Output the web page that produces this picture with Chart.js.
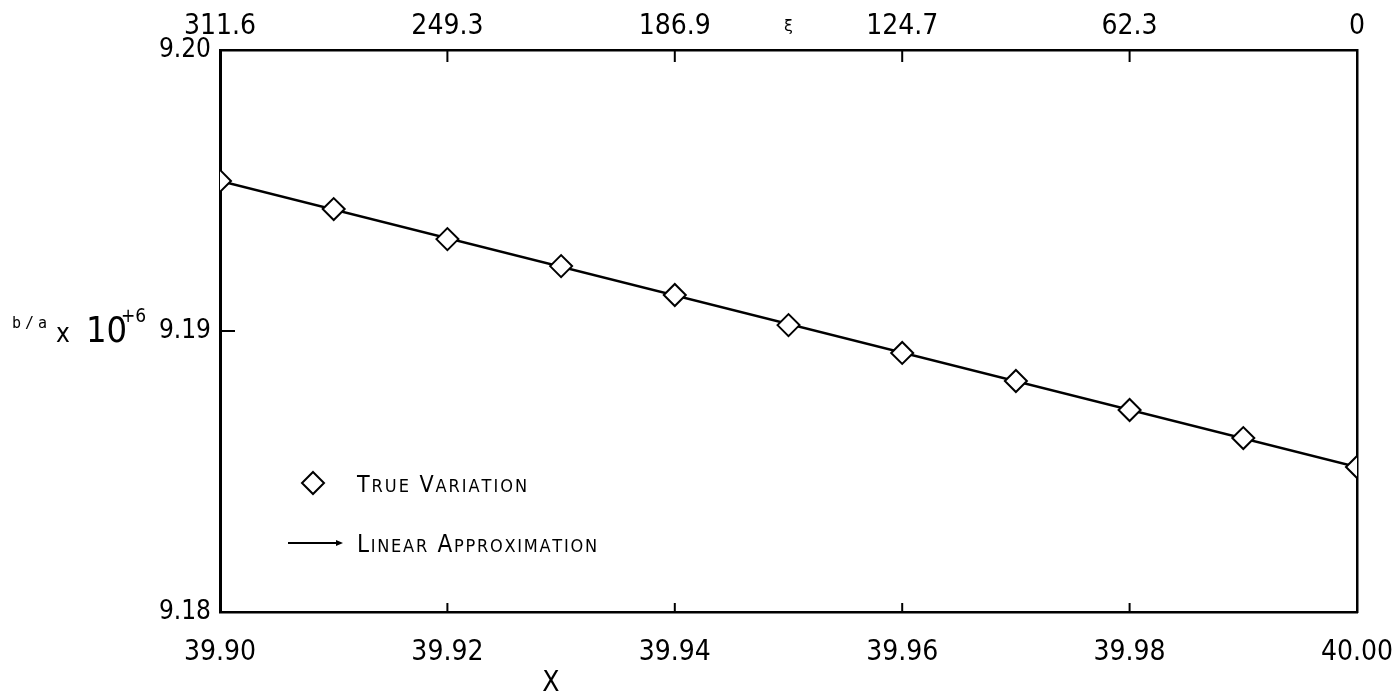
<!DOCTYPE html>
<html>
<head>
<meta charset="utf-8">
<script src="https://cdn.jsdelivr.net/npm/chart.js@4.4.1/dist/chart.umd.min.js"></script>
<style>
  html, body { margin: 0; padding: 0; background: #fff; }
  #wrap { width: 1394px; height: 692px; }
</style>
</head>
<body>
<div id="wrap"><canvas id="chart" width="1394" height="692"></canvas></div>
<script>
// values
const xValues = [39.90, 39.91, 39.92, 39.93, 39.94, 39.95, 39.96, 39.97, 39.98, 39.99, 40.00];
const trueVariation = [9.19534, 9.19434, 9.19327, 9.19231, 9.19128, 9.19021, 9.18922, 9.18822, 9.18719, 9.18619, 9.18516];
// straight line between the end values
const linearX = [39.90, 40.00];
const linearY = [9.19534, 9.18516];

const xTicks = [39.90, 39.92, 39.94, 39.96, 39.98, 40.00];
const xiLabels = ['311.6', '249.3', '186.9', '124.7', '62.3', '0'];
const yTicks = [9.18, 9.19, 9.20];

const NARROW = "'Liberation Sans Narrow', 'DejaVu Sans Condensed', 'Arial Narrow', sans-serif";

function drawLine(ctx, x1, y1, x2, y2) {
    ctx.beginPath();
    ctx.moveTo(x1, y1);
    ctx.lineTo(x2, y2);
    ctx.stroke();
}

function drawDiamond(ctx, cx, cy, r) {
    ctx.beginPath();
    ctx.moveTo(cx, cy - r);
    ctx.lineTo(cx + r, cy);
    ctx.lineTo(cx, cy + r);
    ctx.lineTo(cx - r, cy);
    ctx.closePath();
    ctx.fillStyle = '#fff';
    ctx.fill();
    ctx.stroke();
}

// small caps: uppercase letters big, lowercase drawn as small capitals,
// spread to fill the given width
function drawSmallCaps(ctx, text, x, baseline, bigSize, smallSize, width) {
    const chars = text.split('').map(ch => {
        const big = ch === ch.toUpperCase();
        const font = (big ? bigSize : smallSize) + 'px ' + NARROW;
        ctx.font = font;
        const c = ch.toUpperCase();
        return { c, font, w: ctx.measureText(c).width };
    });
    const natural = chars.reduce((s, o) => s + o.w, 0);
    const gap = (width - natural) / (chars.length - 1);
    let cx = x;
    chars.forEach(o => {
        ctx.font = o.font;
        ctx.fillText(o.c, cx, baseline);
        cx += o.w + gap;
    });
}

const decorations = {
    id: 'decorations',
    afterDraw(chart) {
        const ctx = chart.ctx;
        const { x, y } = chart.scales;
        const area = chart.chartArea;
        ctx.save();
        ctx.strokeStyle = '#000';
        ctx.fillStyle = '#000';
        ctx.lineWidth = 2;

        // inward tick marks
        xTicks.slice(1, -1).forEach(v => {
            const px = x.getPixelForValue(v);
            drawLine(ctx, px, area.bottom, px, area.bottom - 9);
            drawLine(ctx, px, area.top, px, area.top + 12);
        });
        yTicks.slice(1, -1).forEach(v => {
            const py = y.getPixelForValue(v);
            drawLine(ctx, area.left, py, area.left + 15, py);
        });

        // xi label on the top axis
        ctx.textAlign = 'center';
        ctx.textBaseline = 'middle';
        ctx.font = "16px 'DejaVu Sans', sans-serif";
        ctx.fillText('\u03BE', (area.left + area.right) / 2, 27);

        // bottom axis title
        ctx.textBaseline = 'alphabetic';
        ctx.font = '28px ' + NARROW;
        ctx.fillText('X', 551, 691);

        // left axis title: b/a x 10^+6
        ctx.textAlign = 'left';
        ctx.font = "15px 'DejaVu Sans Mono', monospace";
        ctx.letterSpacing = '4px';
        ctx.fillText('b/a', 12, 328);
        ctx.letterSpacing = '0px';
        ctx.font = '26px ' + NARROW;
        ctx.fillText('x', 56, 342);
        ctx.font = '36px ' + NARROW;
        ctx.fillText('10', 86, 342);
        ctx.font = '19px ' + NARROW;
        ctx.fillText('+6', 121, 322);

        // legend
        drawDiamond(ctx, 313, 483, 11);
        ctx.fillStyle = '#000';
        drawSmallCaps(ctx, 'True Variation', 357, 492, 23, 18, 170);

        ctx.lineWidth = 2;
        drawLine(ctx, 288, 543, 340, 543);
        ctx.beginPath();
        ctx.moveTo(343, 543);
        ctx.lineTo(336, 540);
        ctx.lineTo(336, 546);
        ctx.closePath();
        ctx.fill();
        drawSmallCaps(ctx, 'Linear Approximation', 357, 552, 24, 18, 240);

        ctx.restore();
    }
};

const fixedTicks = list => scale => { scale.ticks = list.map(v => ({ value: v })); };
// fixed axis sizes, no extra room for overhanging end labels
const fitHeight = h => s => { s.height = h; s.paddingLeft = 0; s.paddingRight = 0; };
const fitWidth = w => s => { s.width = w; s.paddingTop = 0; s.paddingBottom = 0; };

new Chart(document.getElementById('chart'), {
    type: 'line',
    data: {
        datasets: [
            {
                label: 'True Variation',
                data: xValues.map((v, i) => ({ x: v, y: trueVariation[i] })),
                showLine: false,
                pointStyle: 'rectRot',
                pointRadius: 11,
                pointBorderWidth: 2,
                pointBackgroundColor: '#fff',
                pointBorderColor: '#000',
                clip: 0,
                order: 0
            },
            {
                label: 'Linear Approximation',
                data: linearX.map((v, i) => ({ x: v, y: linearY[i] })),
                borderColor: '#000',
                borderWidth: 2.5,
                pointRadius: 0,
                tension: 0,
                clip: 0,
                order: 1
            }
        ]
    },
    options: {
        responsive: false,
        animation: false,
        events: [],
        layout: { padding: 0 },
        plugins: { legend: { display: false }, tooltip: { enabled: false } },
        scales: {
            x: {
                type: 'linear',
                position: 'bottom',
                min: 39.90,
                max: 40.00,
                afterBuildTicks: fixedTicks(xTicks),
                afterFit: fitHeight(80),
                grid: { display: false, drawTicks: false },
                border: { display: true, color: '#000', width: 2.5 },
                ticks: {
                    color: '#000',
                    padding: 24,
                    maxRotation: 0,
                    autoSkip: false,
                    font: { family: NARROW, size: 28 },
                    callback: v => v.toFixed(2)
                }
            },
            x2: {
                type: 'linear',
                position: 'top',
                min: 39.90,
                max: 40.00,
                afterBuildTicks: fixedTicks(xTicks),
                afterFit: fitHeight(50),
                grid: { display: false, drawTicks: false },
                border: { display: true, color: '#000', width: 2.5 },
                ticks: {
                    color: '#000',
                    padding: 6,
                    maxRotation: 0,
                    autoSkip: false,
                    font: { family: NARROW, size: 28 },
                    callback: (v, i) => xiLabels[i]
                }
            },
            y: {
                type: 'linear',
                position: 'left',
                min: 9.18,
                max: 9.20,
                afterBuildTicks: fixedTicks(yTicks),
                afterFit: fitWidth(220),
                grid: { display: false, drawTicks: false },
                border: { display: true, color: '#000', width: 3 },
                ticks: {
                    color: '#000',
                    padding: 9,
                    font: { family: NARROW, size: 26 },
                    callback: v => v.toFixed(2)
                }
            },
            y2: {
                type: 'linear',
                position: 'right',
                min: 9.18,
                max: 9.20,
                afterFit: fitWidth(37),
                grid: { display: false, drawTicks: false },
                border: { display: true, color: '#000', width: 2.5 },
                ticks: { display: false }
            }
        }
    },
    plugins: [decorations]
});
</script>
</body>
</html>
